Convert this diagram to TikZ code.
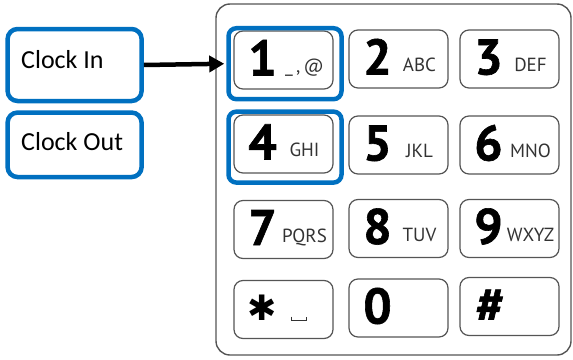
\documentclass[tikz,border=0pt]{standalone}
\usepackage{fontspec}
\setmainfont{Carlito}
\newfontfamily\keyfont{PT Sans}
\newfontfamily\digitfont{PT Sans Bold}[FakeBold=1.2]
\newfontfamily\symfont{DejaVu Sans Bold}
\usetikzlibrary{calc,arrows.meta}
\definecolor{hiblue}{HTML}{0070C0}
\definecolor{keygray}{HTML}{555555}
\definecolor{letgray}{HTML}{333333}
\tikzset{
  panel/.style={draw=keygray, line width=1.4pt, rounded corners=14pt},
  keybox/.style={draw=keygray, line width=1.2pt, rounded corners=9pt,
    minimum width=99pt, minimum height=58pt, inner sep=0pt},
  hilite/.style={draw=hiblue, line width=4.5pt, rounded corners=8pt, inner sep=0pt},
  labelbox/.style={draw=hiblue, line width=4.5pt, rounded corners=10pt, inner sep=0pt},
  labeltext/.style={anchor=base west, inner sep=0pt, font=\fontsize{26}{30}\selectfont},
  digit/.style={anchor=base, inner sep=0pt, font=\digitfont\fontsize{50}{50}\selectfont},
  letters/.style={anchor=base, inner sep=0pt, text=letgray, font=\keyfont\fontsize{19}{19}\selectfont},
  pointer/.style={-{Triangle[length=15pt,width=16pt]}, line width=4.5pt}
}
\begin{document}
\begin{tikzpicture}[x=1pt, y=-1pt]
\useasboundingbox (0,0) rectangle (573,359);

% phone body
\draw[panel] (216,4) rectangle (571,355);

% keys, row by row
\foreach \name/\cx/\cy in {k1/283.5/60, k2/398.5/59, k3/509.5/59,
                           k4/283.5/144, k5/398.5/145, k6/509.5/145,
                           k7/283.5/229.5, k8/398.5/228.5, k9/509.5/228.5,
                           kstar/283.5/309.5, k0/398.5/308, khash/509.5/306.5}
  \node[keybox] (\name) at (\cx,\cy) {};

% digits and letters on the keys
\foreach \k/\d/\l in {k1/1/{\_\,,\,@}, k2/2/ABC, k3/3/DEF,
                      k4/4/GHI, k5/5/JKL, k6/6/MNO,
                      k7/7/PQRS, k8/8/TUV, k9/9/WXYZ}{
  \node[digit] (d\k) at ($(\k.center)+(-21,15.5)$) {\d};
  \node[letters] (l\k) at ($(\k.center)+(21,12.5)$) {\l};
}
\node[anchor=center, inner sep=0pt, font=\symfont\fontsize{35}{35}\selectfont]
  (dstar) at ($(kstar.center)+(-21,-2)$) {✱};
\node[digit] (dzero) at ($(k0.center)+(-21,15.5)$) {0};
\node[digit] (dhash) at ($(khash.center)+(-19.5,15.5)$) {\#};
% space-bar sign on the star key
\coordinate (sp) at ($(kstar.center)+(15.5,10.5)$);
\draw[letgray, line width=0.9pt] ($(sp)+(-7.5,-3.5)$) -- ($(sp)+(-7.5,0)$)
  -- ($(sp)+(7.5,0)$) -- ($(sp)+(7.5,-3.5)$);

% highlighted keys
\node[hilite, minimum width=113pt, minimum height=71pt] (h1) at (285,63.7) {};
\node[hilite, minimum width=113pt, minimum height=71pt] (h4) at (285,147.1) {};

% labels
\node[labelbox, minimum width=134pt, minimum height=72pt] (cin) at (74.6,65) {};
\node[labelbox, minimum width=134pt, minimum height=64.5pt] (cout) at (74.6,144.8) {};
\node[labeltext] (tin) at (21,68) {Clock In};
\node[labeltext] (tout) at (21,150) {Clock Out};

% connector
\draw[pointer, shorten >=2pt] (cin.east) -- (h1.west);
\end{tikzpicture}
\end{document}
